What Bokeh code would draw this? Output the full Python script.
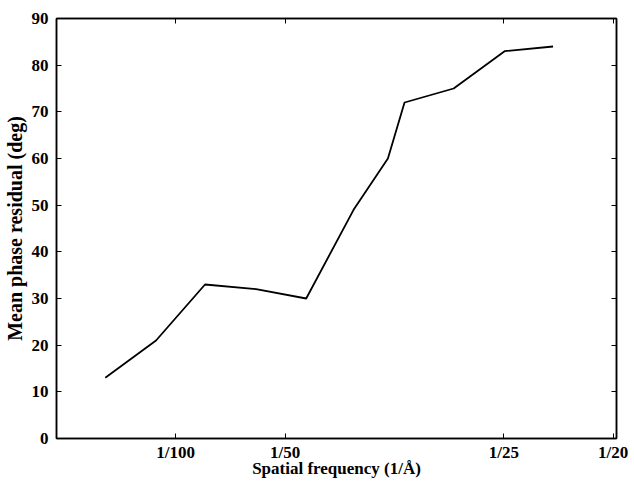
from bokeh.plotting import figure
from bokeh.models import LinearAxis, FixedTicker, Range1d
from bokeh.embed import file_html
from bokeh.resources import INLINE

freq = [0.00356, 0.0082, 0.01268, 0.01735, 0.02193, 0.02626, 0.0294, 0.03092, 0.03541, 0.04007, 0.0445]
residual = [13, 21, 33, 32, 30, 49, 60, 72, 75, 83, 84]

x_ticks = [0.01, 0.02, 0.04, 0.05]
x_tick_labels = ["1/100", "1/50", "1/25", "1/20"]
y_ticks = [0, 10, 20, 30, 40, 50, 60, 70, 80, 90]

FONT = "Liberation Serif"

p = figure(frame_width=560, frame_height=420, output_backend="svg", toolbar_location=None,
           x_range=Range1d(-0.0009, 0.0503), y_range=Range1d(0, 90),
           min_border_left=2, min_border_right=15, min_border_top=18, min_border_bottom=2)
p.grid.visible = False
p.outline_line_color = "black"
p.outline_line_width = 1.5

p.line(freq, residual, line_color="black", line_width=1.8)

def style(ax):
    ax.axis_line_width = 1.5
    ax.major_tick_in = 5
    ax.major_tick_out = 0
    ax.minor_tick_in = 0
    ax.minor_tick_out = 0
    ax.major_tick_line_width = 1
    ax.major_label_text_font = FONT
    ax.major_label_text_font_style = "bold"
    ax.major_label_text_font_size = "17px"
    ax.major_label_text_color = "black"
    ax.axis_label_text_font = FONT
    ax.axis_label_text_font_style = "bold"
    ax.axis_label_text_font_size = "17px"
    ax.axis_label_text_color = "black"

xa = p.xaxis[0]
xa.ticker = FixedTicker(ticks=x_ticks)
xa.major_label_overrides = {t: l for t, l in zip(x_ticks, x_tick_labels)}
xa.axis_label = "Spatial frequency (1/Å)"
style(xa)
xa.major_label_standoff = 4
xa.axis_label_standoff = -6

ya = p.yaxis[0]
ya.ticker = FixedTicker(ticks=y_ticks)
ya.axis_label = "Mean phase residual (deg)"
style(ya)
ya.major_label_standoff = 8
ya.axis_label_standoff = 3
ya.axis_label_text_font_size = "20px"

top = LinearAxis(ticker=FixedTicker(ticks=x_ticks))
style(top)
top.major_label_overrides = {t: "" for t in x_ticks}
top.major_label_standoff = 0
p.add_layout(top, "above")
right = LinearAxis(ticker=FixedTicker(ticks=y_ticks))
style(right)
right.major_label_overrides = {t: "" for t in y_ticks}
right.major_label_standoff = 0
p.add_layout(right, "right")

open("out.html", "w").write(file_html(p, INLINE))
